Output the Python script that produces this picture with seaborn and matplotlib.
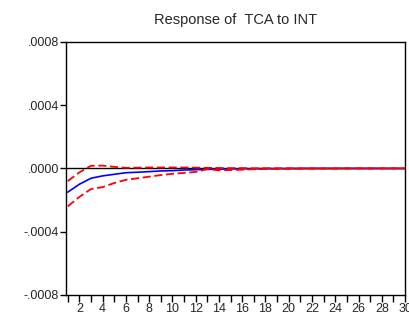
import numpy as np
import pandas as pd
import matplotlib
matplotlib.use("Agg")
import matplotlib.pyplot as plt
import seaborn as sns

periods = list(range(1, 31))
response = [-0.000150, -0.000100, -0.000062, -0.000047, -0.000037, -0.000027, -0.000024,
            -0.000020, -0.000016, -0.000014, -0.000010, -0.000008, -0.000006, -0.000004,
            -0.000003, -0.000002, -0.000002, -0.000001, -0.000001, -0.000001, 0.0, 0.0,
            0.0, 0.0, 0.0, 0.0, 0.0, 0.0, 0.0, 0.0]
lower = [-0.000240, -0.000180, -0.000130, -0.000118, -0.000092, -0.000072, -0.000062,
         -0.000052, -0.000042, -0.000034, -0.000028, -0.000022, -0.000004, -0.000012,
         -0.000010, -0.000008, -0.000005, -0.000004, -0.000003, -0.000002, -0.000002,
         -0.000001, -0.000001, -0.000001, 0.0, 0.0, 0.0, 0.0, 0.0, 0.0]
upper = [-0.000080, -0.000025, 0.000017, 0.000018, 0.000010, 0.000004, 0.000005,
         0.000006, 0.000006, 0.000006, 0.000006, 0.000005, 0.000004, 0.000003,
         0.000002, 0.000002, 0.000001, 0.000001, 0.000001, 0.000001, 0.0, 0.0,
         0.0, 0.0, 0.0, 0.0, 0.0, 0.0, 0.0, 0.0]
title = "Response of  TCA to INT"
yticks = [0.0008, 0.0004, 0.0, -0.0004, -0.0008]
ytick_labels = [".0008", ".0004", ".0000", "-.0004", "-.0008"]
xtick_labels = [str(v) for v in range(2, 31, 2)]

sns.set_style("white")
plt.rcParams['font.family'] = ['Liberation Sans', 'DejaVu Sans']

df = pd.DataFrame({"period": periods, "response": response, "lower": lower, "upper": upper})

fig = plt.figure(figsize=(4.10, 3.23), dpi=100)
ax = fig.add_axes([0.161, 0.087, 0.827, 0.783])

ax.axhline(0, color="black", lw=1.0, zorder=1)
sns.lineplot(data=df, x="period", y="lower", ax=ax, color="#ff0000", lw=1.3,
             linestyle=(0, (4.5, 2)), zorder=3)
sns.lineplot(data=df, x="period", y="upper", ax=ax, color="#ff0000", lw=1.3,
             linestyle=(0, (4.5, 2)), zorder=3)
sns.lineplot(data=df, x="period", y="response", ax=ax, color="#0000ff", lw=1.2, zorder=2)

ax.set_xlim(0.85, 30.0)
ax.set_ylim(-0.0008, 0.0008)
ax.set_xticks(periods, minor=True)
ax.set_xticks(list(range(2, 31, 2)))
ax.set_xticklabels(xtick_labels)
ax.set_yticks(yticks)
ax.set_yticklabels(ytick_labels)
ax.set_xlabel("")
ax.set_ylabel("")
ax.set_title(title, fontsize=10.5, pad=13)

for s in ax.spines.values():
    s.set_color("black")
    s.set_linewidth(1.0)
    s.set_visible(True)

ax.tick_params(axis="x", which="both", direction="out", length=5, width=1, color="black",
               bottom=True, labelsize=9, pad=1)
ax.tick_params(axis="y", which="major", direction="out", length=4, width=1, color="black",
               left=True, labelsize=9, pad=1)

fig.savefig("out.png", dpi=100)
